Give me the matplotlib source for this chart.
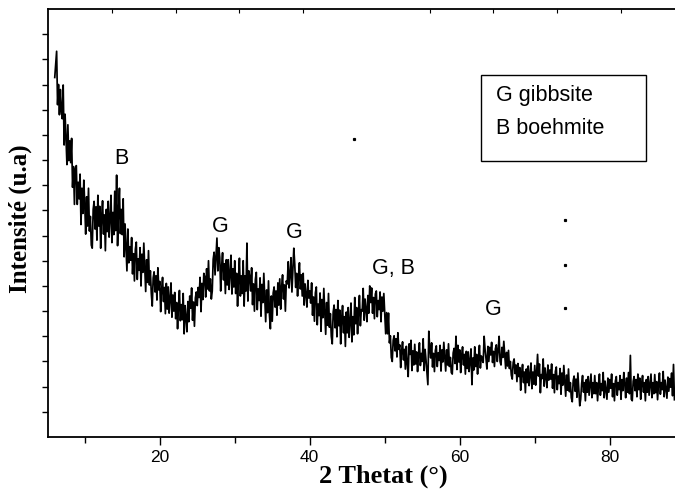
import numpy as np
import matplotlib
matplotlib.use("Agg")
import matplotlib.pyplot as plt
from matplotlib.patches import Rectangle


# diffractogramme : 2 theta de 6.0 a 88.625 par pas de 0.125 deg (8 points par degre)
theta_start = 6.0
theta_step = 0.125
intensity = [
    714, 740, 766, 660, 700, 640, 690, 650,  # 6
    632, 699, 580, 641, 594, 541, 620, 549,  # 7
    588, 545, 593, 496, 537, 462, 531, 539,  # 8
    462, 506, 473, 522, 422, 494, 444, 510,  # 9
    461, 403, 477, 419, 494, 409, 438, 381,  # 10
    375, 452, 468, 413, 457, 391, 480, 419,  # 11
    458, 375, 436, 469, 403, 441, 370, 452,  # 12
    408, 468, 397, 435, 480, 386, 446, 402,  # 13
    488, 410, 520, 380, 446, 494, 404, 452,  # 14
    402, 473, 358, 423, 379, 330, 413, 346,  # 15
    378, 351, 396, 324, 364, 310, 373, 387,  # 16
    313, 354, 331, 376, 300, 363, 327, 385,  # 17
    334, 289, 352, 307, 370, 302, 330, 285,  # 18
    260, 316, 328, 288, 320, 272, 336, 292,  # 19
    309, 249, 293, 317, 269, 297, 245, 305,  # 20
    254, 298, 246, 274, 306, 238, 282, 250,  # 21
    287, 235, 267, 215, 259, 291, 231, 263,  # 22
    233, 285, 205, 261, 237, 209, 269, 229,  # 23
    280, 256, 296, 232, 268, 220, 276, 288,  # 24
    261, 297, 277, 317, 249, 305, 273, 325,  # 25
    318, 278, 334, 294, 350, 290, 314, 274,  # 26
    290, 353, 367, 322, 358, 395, 330, 376,  # 27
    357, 290, 339, 366, 312, 344, 285, 352,  # 28
    302, 352, 293, 325, 361, 284, 334, 298,  # 29
    350, 285, 325, 260, 315, 355, 280, 320,  # 30
    285, 350, 260, 320, 290, 385, 270, 330,  # 31
    318, 290, 336, 263, 304, 250, 313, 327,  # 32
    253, 294, 271, 316, 240, 303, 267, 325,  # 33
    274, 229, 292, 247, 310, 243, 215, 280,  # 34
    230, 286, 298, 258, 290, 242, 306, 262,  # 35
    314, 254, 298, 322, 274, 302, 250, 310,  # 36
    304, 348, 296, 324, 356, 288, 332, 375,  # 37
    343, 297, 325, 280, 318, 346, 294, 322,  # 38
    280, 325, 262, 304, 283, 258, 311, 276,  # 39
    290, 266, 306, 242, 278, 230, 286, 298,  # 40
    223, 264, 241, 286, 210, 273, 237, 295,  # 41
    249, 204, 267, 222, 285, 218, 245, 200,  # 42
    185, 248, 262, 217, 253, 199, 271, 221,  # 43
    252, 185, 234, 261, 207, 239, 180, 248,  # 44
    207, 257, 198, 230, 266, 189, 239, 203,  # 45
    277, 225, 257, 205, 249, 281, 221, 253,  # 46
    250, 295, 232, 274, 253, 229, 281, 246,  # 47
    300, 267, 296, 246, 277, 235, 284, 290,  # 48
    239, 271, 253, 288, 229, 278, 250, 285,  # 49
    247, 205, 247, 205, 246, 187, 201, 158,  # 50
    150, 192, 201, 171, 195, 159, 207, 174,  # 51
    183, 138, 171, 189, 153, 174, 135, 180,  # 52
    146, 120, 185, 164, 192, 132, 171, 143,  # 53
    184, 145, 169, 130, 163, 187, 142, 166,  # 54
    150, 195, 132, 174, 153, 129, 104, 210,  # 55
    175, 157, 187, 139, 166, 130, 172, 181,  # 56
    140, 167, 152, 182, 131, 173, 149, 188,  # 57
    161, 131, 173, 143, 185, 140, 158, 128,  # 58
    125, 167, 176, 146, 200, 134, 182, 149,  # 59
    173, 128, 161, 179, 143, 164, 125, 170,  # 60
    136, 169, 130, 151, 175, 104, 157, 133,  # 61
    179, 140, 164, 125, 158, 182, 137, 161,  # 62
    153, 148, 200, 174, 156, 135, 180, 150,  # 63
    178, 163, 188, 148, 170, 140, 175, 183,  # 64
    150, 173, 200, 150, 143, 178, 158, 190,  # 65
    163, 136, 168, 141, 172, 136, 150, 123,  # 66
    115, 148, 155, 126, 143, 110, 146, 120,  # 67
    138, 93, 126, 144, 108, 129, 88, 135,  # 68
    108, 141, 102, 123, 147, 96, 129, 105,  # 69
    142, 103, 127, 164, 121, 145, 88, 124,  # 70
    116, 155, 101, 137, 119, 98, 143, 113,  # 71
    133, 115, 145, 97, 124, 88, 130, 139,  # 72
    94, 121, 106, 136, 85, 127, 103, 142,  # 73
    111, 81, 123, 93, 135, 90, 108, 78,  # 74
    70, 112, 121, 91, 115, 79, 127, 94,  # 75
    62, 75, 106, 122, 89, 108, 72, 114,  # 76
    89, 120, 83, 103, 125, 78, 108, 86,  # 77
    122, 86, 108, 72, 103, 125, 83, 106,  # 78
    92, 128, 78, 111, 94, 75, 117, 89,  # 79
    114, 97, 125, 80, 106, 72, 111, 120,  # 80
    83, 108, 94, 122, 75, 114, 92, 128,  # 81
    106, 78, 117, 89, 128, 86, 162, 75,  # 82
    72, 111, 120, 92, 114, 80, 125, 94,  # 83
    117, 75, 106, 122, 89, 108, 72, 114,  # 84
    89, 120, 83, 103, 125, 78, 108, 86,  # 85
    124, 88, 110, 74, 105, 127, 85, 108,  # 86
    94, 130, 80, 113, 96, 77, 119, 91,  # 87
    116, 99, 127, 82, 144, 74,  # 88
]
two_theta = theta_start + theta_step * np.arange(len(intensity))

# pics identifies
peak_labels = ["B", "G", "G", "G, B", "G"]
peak_x = [14.9, 28.1, 38.0, 51.1, 64.5]
peak_y = [554, 418, 406, 334, 254]

# petits points parasites de la figure d'origine
dot_x = [45.9, 74.0, 74.0, 74.0]
dot_y = [592, 430, 342, 256]

fig = plt.figure(figsize=(6.75, 4.91), dpi=100)
ax = fig.add_axes([48 / 675, 54 / 491, 627 / 675, 428 / 491])

ax.plot(two_theta, intensity, color="black", lw=1.25)
ax.plot(dot_x, dot_y, ls="none", marker="s", ms=1.3, color="black")

for lab, px, py in zip(peak_labels, peak_x, peak_y):
    ax.text(px, py, lab, ha="center", va="center", fontsize=15.5,
            family="Liberation Sans")

# boite de legende
ax.add_patch(Rectangle((62.9, 548), 21.9, 170, fill=False, lw=1.0, ec="black"))
ax.text(64.8, 668, "G gibbsite", fontsize=15.5, family="Liberation Sans", va="baseline")
ax.text(64.8, 602, "B boehmite", fontsize=15.5, family="Liberation Sans", va="baseline")

ax.set_xlim(5.1, 88.7)
ax.set_ylim(0, 850)
ax.set_xticks([20, 40, 60, 80])
ax.set_xticks([10, 30, 50, 70], minor=True)
ax.set_yticks(np.arange(50, 850, 50))
ax.set_yticklabels([])
ax.tick_params(axis="x", which="major", length=6, width=1.0, labelsize=12.5, direction="out")
ax.tick_params(axis="x", which="minor", length=4, width=1.0, direction="out")
ax.tick_params(axis="y", length=4, width=1.0, direction="out")
for lab in ax.get_xticklabels():
    lab.set_family("Liberation Sans")

ax.spines["right"].set_visible(False)
for s in ["left", "bottom", "top"]:
    ax.spines[s].set_linewidth(1.3)

top = ax.secondary_xaxis("top")
top.set_xticks([13.6, 22.1, 30.6, 39.1, 56.0, 64.5, 73.0, 81.5])
top.set_xticklabels([])
top.tick_params(direction="in", length=3, width=0.8)
top.spines["top"].set_visible(False)

ax.set_xlabel("2 Thetat (°)", fontsize=19, fontweight="bold", family="Liberation Serif")
ax.xaxis.set_label_coords((383 - 48) / 627, -0.065)
ax.set_ylabel("Intensité (u.a)", fontsize=18, fontweight="bold", family="Liberation Serif")
ax.yaxis.set_label_coords(-0.025, 0.51)

fig.savefig("out.png", dpi=100)
